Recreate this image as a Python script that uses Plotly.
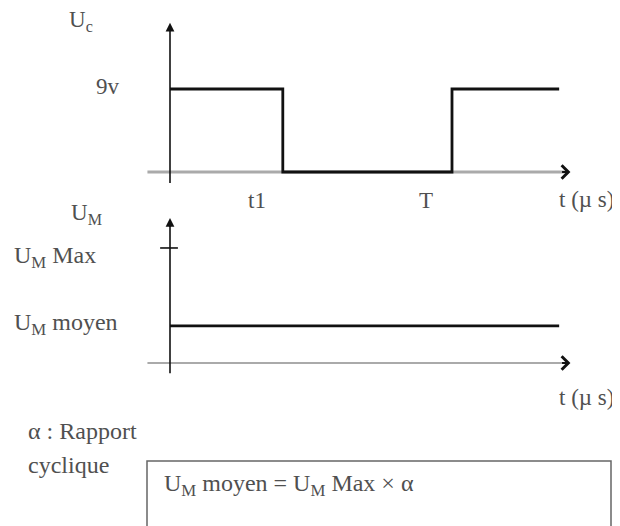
import plotly.graph_objects as go

# signal Uc (top) : time in µs, volts
t_uc = [0, 4, 4, 10, 10, 13.8]
uc = [9, 9, 0, 0, 9, 9]
# motor voltage (bottom)
t_um = [0, 13.8]
um_moyen = [2.9, 2.9]
um_max = 9
# time marks
t_marks = [4, 10]
t_labels = ['t1', 'T']
uc_level = 9
uc_label = '9v'

# page body keeps an 8px margin, so the figure is drawn 8px in from the corner
OFF = 8
W, H = 620 - OFF, 526 - OFF
SX = 28.2            # px per µs
ORIGIN_X = 170 - OFF
TOP_Y0, TOP_SY = 172 - OFF, 9.22   # px of Uc=0, px per V
BOT_Y0, BOT_SY = 363 - OFF, 12.78  # px of Um=0, px per V

t_axis = [-0.8, 14.2]
uc_axis = [-1.2, 16.2]
um_axis = [-0.8, 11.35]

FONT = dict(family='Liberation Serif, Times New Roman, Times, serif', size=23, color='#505050')
BIG = dict(FONT, size=24)


def xr():
    return [-ORIGIN_X / SX, (W - ORIGIN_X) / SX]


def yr(y0, sy):
    return [(y0 - H) / sy, y0 / sy]


def px(x, y):
    # screen pixel -> paper fraction
    return (x - OFF) / W, 1 - (y - OFF) / H


fig = go.Figure()
fig.add_trace(go.Scatter(x=t_uc, y=uc, mode='lines', xaxis='x', yaxis='y',
                         line=dict(color='#111', width=2.8)))
fig.add_trace(go.Scatter(x=t_um, y=um_moyen, mode='lines', xaxis='x2', yaxis='y2',
                         line=dict(color='#111', width=2.8)))

shapes = []
annotations = []

for xa, ya, w in (('x', 'y', 2.8), ('x2', 'y2', 2)):
    # horizontal time axis (grey) with black chevron head
    shapes.append(dict(type='line', xref=xa, yref=ya, x0=t_axis[0], x1=t_axis[1] - 0.2,
                       y0=0, y1=0, line=dict(color='#aaa', width=w), layer='below'))
    annotations.append(dict(xref=xa, yref=ya, axref=xa, ayref=ya, x=t_axis[1], y=0,
                            ax=t_axis[1] - 0.35, ay=0, text='', showarrow=True,
                            arrowhead=4, arrowsize=1.3, arrowwidth=2, arrowcolor='#111'))

# vertical axes
for xa, ya, rng in (('x', 'y', uc_axis), ('x2', 'y2', um_axis)):
    shapes.append(dict(type='line', xref=xa, yref=ya, x0=0, x1=0, y0=rng[0], y1=rng[1] - 0.5,
                       line=dict(color='#111', width=1.6)))
    annotations.append(dict(xref=xa, yref=ya, axref=xa, ayref=ya, x=0, y=rng[1],
                            ax=0, ay=rng[1] - 0.8, text='', showarrow=True,
                            arrowhead=2, arrowsize=1.1, arrowwidth=1.6, arrowcolor='#111'))

# tick on Um axis at Um max
shapes.append(dict(type='line', xref='x2', yref='y2', x0=-0.35, x1=0.28, y0=um_max, y1=um_max,
                   line=dict(color='#111', width=1.6)))

# time labels
for tv, tl in zip(t_marks, t_labels):
    annotations.append(dict(xref='x', yref='y', x=tv, y=0, text=tl, showarrow=False,
                            xshift=-26, yshift=-28, font=FONT))
annotations.append(dict(xref='x', yref='y', x=-1.7, y=uc_level, text=uc_label, showarrow=False,
                        xanchor='right', yshift=3, font=FONT))


def label(text, x, y, font=FONT):
    lx, ly = px(x, y)
    annotations.append(dict(xref='paper', yref='paper', x=lx, y=ly, text=text,
                            showarrow=False, xanchor='left', yanchor='middle', font=font))


label('U<sub>c</sub>', 67, 21)
label('t (µ s)', 557, 200)
label('U<sub>M</sub>', 69, 214)
label('U<sub>M</sub> Max', 12, 257, BIG)
label('U<sub>M</sub> moyen', 12, 324, BIG)
label('t (µ s)', 557, 397)
label('α : Rapport', 26, 431, BIG)
label('cyclique', 26, 465, BIG)
label('U<sub>M</sub> moyen = U<sub>M</sub> Max × α', 162, 485, BIG)

# formula frame
x0, y0 = px(147, 461)
x1, y1 = px(611, 540)
shapes.append(dict(type='rect', xref='paper', yref='paper', x0=x0, x1=x1, y0=y1, y1=y0,
                   line=dict(color='#666', width=1.5)))

axis_style = dict(visible=False, domain=[0, 1], fixedrange=True)
fig.update_layout(
    width=W, height=H,
    margin=dict(l=0, r=0, t=0, b=0),
    paper_bgcolor='white', plot_bgcolor='rgba(0,0,0,0)',
    showlegend=False,
    xaxis=dict(range=xr(), **axis_style),
    yaxis=dict(range=yr(TOP_Y0, TOP_SY), **axis_style),
    xaxis2=dict(range=xr(), anchor='y2', **axis_style),
    yaxis2=dict(range=yr(BOT_Y0, BOT_SY), anchor='x2', **axis_style),
    shapes=shapes,
    annotations=annotations,
)

fig.write_html("out.html")
